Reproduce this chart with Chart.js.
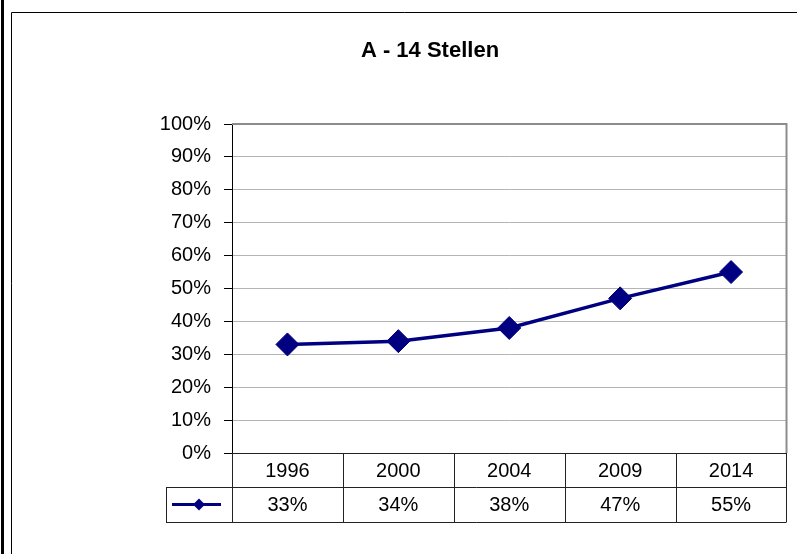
<!DOCTYPE html>
<html>
<head>
<meta charset="utf-8">
<title>A - 14 Stellen</title>
<script src="https://cdn.jsdelivr.net/npm/chart.js@4/dist/chart.umd.min.js"></script>
<style>
  html, body { margin: 0; padding: 0; background: #fff; }
  #wrap { width: 799px; height: 554px; }
</style>
</head>
<body>
<div id="wrap"><canvas id="chart" width="799" height="554"></canvas></div>
<script>
/* Excel-style line chart with a data table under the x axis */

var chartTitle = 'A - 14 Stellen';
var years      = ['1996', '2000', '2004', '2009', '2014'];
var shares     = [0.33, 0.34, 0.38, 0.47, 0.55];
var yTicks     = { min: 0, max: 1, step: 0.1 };

var navy = '#000080';
var fontFamily = "'Liberation Sans', Arial, sans-serif";

function pct(v) {
  return Math.round(v * 100) + '%';
}

// Frame, title, plot border and the data table (Excel look)
var excelTable = {
  id: 'excelTable',
  beforeDraw: function (chart) {
    var ctx = chart.ctx;
    ctx.save();
    ctx.fillStyle = '#fff';
    ctx.fillRect(0, 0, chart.width, chart.height);
    // outer frame
    ctx.fillStyle = '#000';
    ctx.fillRect(1, 0, 3, chart.height);
    ctx.strokeStyle = '#000';
    ctx.lineWidth = 1;
    ctx.beginPath();
    ctx.moveTo(11.5, chart.height);
    ctx.lineTo(11.5, 12.5);
    ctx.lineTo(797, 12.5);
    ctx.stroke();
    // title
    ctx.fillStyle = '#000';
    ctx.font = 'bold 22px ' + fontFamily;
    ctx.textAlign = 'center';
    ctx.textBaseline = 'middle';
    ctx.fillText(chartTitle, 430, 51);
    ctx.restore();
  },
  afterDraw: function (chart) {
    var ctx = chart.ctx;
    var area = chart.chartArea;
    var x = chart.scales.x;
    var half = (x.getPixelForValue(1) - x.getPixelForValue(0)) / 2;
    var y0 = area.bottom;
    var y1 = y0 + 34;
    var y2 = y1 + 35;
    var keyLeft = 166;

    ctx.save();
    // plot area border (top / right)
    ctx.strokeStyle = '#8c8c8c';
    ctx.lineWidth = 2;
    ctx.beginPath();
    ctx.moveTo(area.left, area.top);
    ctx.lineTo(area.right, area.top);
    ctx.lineTo(area.right, area.bottom);
    ctx.stroke();

    // table grid
    ctx.strokeStyle = '#222';
    ctx.lineWidth = 1;
    ctx.beginPath();
    ctx.moveTo(area.left, Math.round(y0) + 0.5);
    ctx.lineTo(area.right, Math.round(y0) + 0.5);
    ctx.moveTo(keyLeft, Math.round(y1) + 0.5);
    ctx.lineTo(area.right, Math.round(y1) + 0.5);
    ctx.moveTo(keyLeft, Math.round(y2) + 0.5);
    ctx.lineTo(area.right, Math.round(y2) + 0.5);
    ctx.moveTo(keyLeft + 0.5, y1);
    ctx.lineTo(keyLeft + 0.5, y2);
    for (var i = 0; i <= years.length; i++) {
      var bx = Math.round(x.getPixelForValue(0) - half + i * 2 * half) + 0.5;
      if (i === years.length) bx = Math.round(area.right) - 0.5;
      ctx.moveTo(bx, y0);
      ctx.lineTo(bx, y2);
    }
    ctx.stroke();

    // table text
    ctx.fillStyle = '#000';
    ctx.font = '20px ' + fontFamily;
    ctx.textAlign = 'center';
    ctx.textBaseline = 'middle';
    for (var j = 0; j < years.length; j++) {
      var cx = x.getPixelForValue(j);
      ctx.fillText(years[j], cx, (y0 + y1) / 2 + 1);
      ctx.fillText(pct(shares[j]), cx, (y1 + y2) / 2 + 1);
    }

    // legend key
    var ky = (y1 + y2) / 2;
    var kx = (keyLeft + area.left) / 2;
    ctx.strokeStyle = navy;
    ctx.lineWidth = 3;
    ctx.beginPath();
    ctx.moveTo(keyLeft + 6, ky);
    ctx.lineTo(area.left - 11, ky);
    ctx.stroke();
    ctx.fillStyle = navy;
    ctx.beginPath();
    ctx.moveTo(kx - 6, ky);
    ctx.lineTo(kx, ky - 6);
    ctx.lineTo(kx + 6, ky);
    ctx.lineTo(kx, ky + 6);
    ctx.closePath();
    ctx.fill();
    ctx.restore();
  }
};

new Chart(document.getElementById('chart'), {
  type: 'line',
  data: {
    labels: years,
    datasets: [{
      label: chartTitle,
      data: shares,
      borderColor: navy,
      backgroundColor: navy,
      borderWidth: 3.5,
      tension: 0,
      fill: false,
      pointStyle: 'rectRot',
      pointRadius: 11.5,
      pointBorderWidth: 1,
      pointBackgroundColor: navy,
      pointBorderColor: navy
    }]
  },
  options: {
    responsive: false,
    animation: false,
    layout: { padding: { top: 124, right: 10, left: 0, bottom: 0 } },
    plugins: {
      legend: { display: false },
      title: { display: false },
      tooltip: { enabled: false }
    },
    scales: {
      x: {
        offset: true,
        ticks: { display: false },
        grid: { display: false },
        border: { display: false },
        afterFit: function (s) {
          s.height = 554 - 453;
          s.paddingLeft = 0;
          s.paddingRight = 0;
        }
      },
      y: {
        min: yTicks.min,
        max: yTicks.max,
        ticks: {
          stepSize: yTicks.step,
          color: '#000',
          padding: 13,
          font: { family: fontFamily, size: 20 },
          callback: function (v) { return pct(v); }
        },
        grid: { color: '#b4b4b4', tickColor: '#000', tickLength: 8, lineWidth: 1 },
        border: { color: '#000', width: 1 },
        afterFit: function (s) { s.width = 232; }
      }
    }
  },
  plugins: [excelTable]
});
</script>
</body>
</html>
